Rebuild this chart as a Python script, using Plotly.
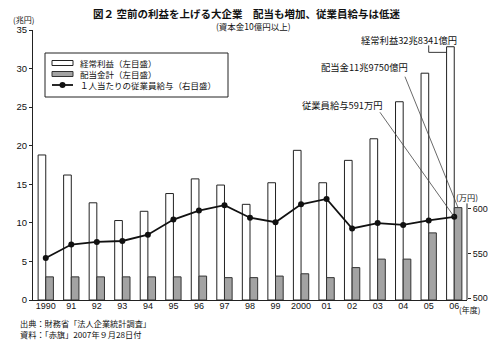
import numpy as np
import plotly.graph_objects as go

# ---------------- data ----------------
years = ['1990', '91', '92', '93', '94', '95', '96', '97', '98', '99',
         '2000', '01', '02', '03', '04', '05', '06']
keijo_rieki = [18.8, 16.2, 12.6, 10.3, 11.5, 13.8, 15.7, 14.9, 12.4, 15.2,
               19.4, 15.2, 18.1, 20.9, 25.7, 29.4, 32.83]          # 兆円
haito_kei = [3.0, 3.0, 3.0, 3.0, 3.0, 3.0, 3.1, 2.9, 2.9, 3.1,
             3.4, 2.9, 4.2, 5.3, 5.3, 8.7, 11.975]                 # 兆円
kyuyo = [545, 560, 563, 564, 571, 588, 598, 604, 590, 585,
         605, 611, 578, 584, 582, 587, 591]                        # 万円
left_ticks = [0, 5, 10, 15, 20, 25, 30, 35]
right_ticks = [500, 550, 600]
legend_labels = ["経常利益（左目盛）", "配当金計（左目盛）", "１人当たりの従業員給与（右目盛）"]
source_lines = ["出典：財務省「法人企業統計調査」", "資料：「赤旗」2007年９月28日付"]

x = np.arange(len(years))
last = len(years) - 1

CJK = "Noto Sans CJK JP"
NUM = "Liberation Sans"

fig = go.Figure()
fig.add_trace(go.Bar(
    x=x, y=keijo_rieki, name=legend_labels[0], offsetgroup="a",
    marker=dict(color="white", line=dict(color="#222", width=1)),
))
fig.add_trace(go.Bar(
    x=x, y=haito_kei, name=legend_labels[1], offsetgroup="b",
    marker=dict(color="#a3a3a3", line=dict(color="#333", width=1)),
))
fig.add_trace(go.Scatter(
    x=x, y=kyuyo, name=legend_labels[2], yaxis="y2",
    mode="lines+markers", line=dict(color="#111", width=1.8),
    marker=dict(color="#111", size=6),
))

# pixel helpers for layout-only items
L, T, W, H = 33, 30, 434, 270
def px(v): return (v - L) / W
def py(v): return (T + H - v) / H

annotations = [
    dict(text="<b>図２ 空前の利益を上げる大企業　配当も増加、従業員給与は低迷</b>",
         x=px(246.5), y=py(13.5), font=dict(size=10.5, family=CJK)),
    dict(text="(資本金10億円以上)", x=px(253), y=py(26), font=dict(size=8.5, family=CJK)),
    dict(text="(兆円)", x=px(23.5), y=py(19), font=dict(size=8, family=CJK)),
    dict(text="(万円)", x=px(467), y=py(196.5), font=dict(size=8.2, family=CJK)),
    dict(text="(年度)", x=px(457), y=py(309.5), xanchor="left", font=dict(size=8, family=CJK)),
    dict(text="<br>".join(source_lines), x=px(18), y=py(328), xanchor="left", align="left",
         font=dict(size=8.2, family=CJK)),
    # legend texts (one multi-line block)
    dict(text="<br>".join(legend_labels), x=px(77.5), y=py(74), xanchor="left", align="left",
         font=dict(size=8.5, family=CJK)),
]
for a in annotations:
    a.setdefault("xanchor", "center")
    a.update(xref="paper", yref="paper", yanchor="middle", showarrow=False, font_color="#111")

# callout labels in data coordinates
annotations += [
    dict(text="経常利益32兆8341億円", x=last - 1.77, y=33.7, xref="x", yref="y",
         xanchor="center", yanchor="middle",
         showarrow=False, font=dict(size=9.3, family=CJK, color="#111")),
    dict(text="配当金11兆9750億円", x=last - 3.51, y=30.24, xref="x", yref="y",
         xanchor="center", yanchor="middle",
         showarrow=False, font=dict(size=9.3, family=CJK, color="#111")),
    dict(text="従業員給与591万円", x=last - 4.38, y=25.28, xref="x", yref="y",
         xanchor="center", yanchor="middle",
         showarrow=False, font=dict(size=9.3, family=CJK, color="#111")),
]

shapes = [
    # legend box and samples
    dict(type="rect", xref="paper", yref="paper", x0=px(45), x1=px(228), y0=py(97), y1=py(53),
         line=dict(color="#222", width=1), fillcolor="rgba(0,0,0,0)"),
    dict(type="rect", xref="paper", yref="paper", x0=px(52), x1=px(73), y0=py(65.5), y1=py(60.5),
         line=dict(color="#222", width=1), fillcolor="white"),
    dict(type="rect", xref="paper", yref="paper", x0=px(52), x1=px(73), y0=py(76.5), y1=py(71.5),
         line=dict(color="#333", width=1), fillcolor="#a3a3a3"),
    dict(type="line", xref="paper", yref="paper", x0=px(52), x1=px(73), y0=py(85), y1=py(85),
         line=dict(color="#111", width=1.8)),
    dict(type="circle", xref="paper", yref="paper", x0=px(59.5), x1=px(65.5), y0=py(88), y1=py(82),
         line=dict(color="#111", width=0), fillcolor="#111"),
    # partial right axis line
    dict(type="line", xref="paper", yref="y2", x0=1, x1=1, y0=498, y1=606,
         line=dict(color="#222", width=1)),
    # bracket to 2006 keijo bar
    dict(type="line", xref="x", yref="y", x0=last - 1.0, x1=last - 1.0, y0=33.0, y1=32.1,
         line=dict(color="#222", width=0.9)),
    dict(type="line", xref="x", yref="y", x0=last - 1.0, x1=last - 0.3, y0=32.1, y1=32.1,
         line=dict(color="#222", width=0.9)),
    # leader line to 2006 haito bar
    dict(type="line", xref="x", yref="y", x0=last - 1.93, x1=last + 0.15, y0=28.95,
         y1=haito_kei[last], line=dict(color="#444", width=0.8)),
    # leader line to 2006 salary point
    dict(type="line", xref="x", yref="y2", x0=last - 2.91, x1=last, y0=708, y1=kyuyo[last],
         line=dict(color="#444", width=0.8)),
]

fig.update_layout(
    width=500, height=354,
    margin=dict(l=L, r=500 - L - W, t=T, b=354 - T - H),
    paper_bgcolor="white", plot_bgcolor="white",
    barmode="group", bargap=0.4, bargroupgap=0,
    showlegend=False,
    xaxis=dict(range=[-0.5, last + 0.5], tickmode="array", tickvals=x, ticktext=years,
               showgrid=False, zeroline=False, showline=True, linecolor="#222", linewidth=1,
               ticks="", ticklabelstandoff=-3, tickfont=dict(size=9, family=NUM, color="#111")),
    yaxis=dict(range=[0, 35], tickvals=left_ticks, showgrid=False, zeroline=False,
               showline=True, linecolor="#222", linewidth=1, ticks="outside", ticklen=3,
               tickcolor="#222", tickfont=dict(size=9.5, family=NUM, color="#111")),
    yaxis2=dict(range=[498, 800], overlaying="y", side="right", tickvals=right_ticks,
                showgrid=False, zeroline=False, showline=False, ticks="outside", ticklen=3,
                tickcolor="#222", tickfont=dict(size=9, family=NUM, color="#111")),
    annotations=annotations,
    shapes=shapes,
)

fig.write_html("out.html")
